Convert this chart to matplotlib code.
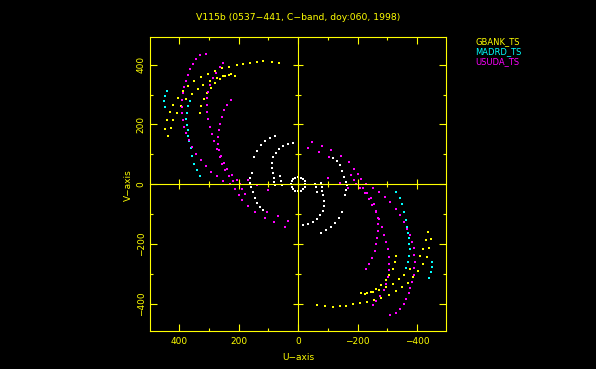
import matplotlib
matplotlib.use("Agg")
import matplotlib.pyplot as plt
import numpy as np
from matplotlib.ticker import MultipleLocator

# uv tracks (kilo-lambda), only one half is listed; the conjugate (-u, -v) is drawn too
GBANK_TRACK_1 = [(448, 185), (442, 215), (433, 243), (420, 266), (405, 290), (388, 312), (370, 330),
                 (350, 345), (328, 358), (305, 370), (280, 380), (255, 388), (232, 394), (207, 399),
                 (185, 403), (162, 407), (140, 409), (117, 411), (89, 409), (64, 405)]
GBANK_TRACK_2 = [(437, 160), (429, 188), (420, 216), (409, 240), (394, 262), (377, 285), (358, 303),
                 (339, 318), (319, 333), (297, 344), (274, 355), (252, 363), (232, 366), (213, 364)]
GBANK_TRACK_3 = [(330, 240), (326, 262), (318, 285), (307, 305), (295, 322), (280, 338), (262, 352),
                 (245, 362), (225, 368)]

MADRD_TRACK_1 = [(450, 260), (451, 277), (448, 296), (442, 313)]
MADRD_TRACK_2 = [(330, 26), (342, 48), (350, 68), (358, 93), (362, 121), (366, 143), (370, 162),
                 (372, 182), (375, 199), (377, 218), (375, 240), (370, 262), (364, 280)]

USUDA_TRACK_1 = [(310, 437), (330, 433), (344, 419), (355, 402), (364, 385), (372, 366), (378, 347),
                 (384, 327), (389, 305), (391, 282), (392, 260), (391, 238), (389, 215), (384, 193),
                 (377, 171), (368, 149), (357, 126), (344, 102), (328, 82), (311, 61), (293, 42),
                 (274, 26), (252, 12), (229, 1), (213, -16), (200, -35), (189, -52), (170, -73),
                 (144, -94), (112, -114), (82, -128), (45, -142)]
USUDA_TRACK_2 = [(252, 405), (263, 392), (277, 374), (288, 355), (297, 333), (302, 310), (306, 288),
                 (307, 266), (306, 243), (302, 218), (297, 193), (290, 169), (282, 143), (272, 117),
                 (261, 93), (250, 70), (239, 50), (224, 31), (207, 14), (196, 1), (188, -15),
                 (179, -32), (104, -92), (69, -108), (33, -122)]
USUDA_TRACK_3 = [(227, 283), (238, 266), (250, 247), (258, 224), (263, 202), (266, 180), (269, 157),
                 (270, 135), (268, 113), (263, 90), (255, 68), (245, 48), (232, 28), (218, 12),
                 (168, 14), (140, -4), (101, -19)]

OTHER_TRACK_1 = [(78, 162), (95, 155), (112, 145), (125, 130), (138, 112), (148, 92), (157, 37),
                 (162, 20), (163, 3), (160, -8), (153, -25), (147, -45), (140, -64), (130, -78),
                 (118, -86)]
OTHER_TRACK_2 = [(17, 137), (33, 134), (50, 127), (64, 118), (75, 105), (84, 90), (87, 72), (87, 55),
                 (85, 38), (82, 22), (80, 8), (78, -4)]
OTHER_TRACK_3 = [(62, 26), (59, 9), (56, -2)]
OTHER_TRACK_4 = [(24, 0), (22, 9), (17, 17), (9, 22), (0, 23), (-9, 22), (-17, 17), (-22, 9)]

SERIES = [
    ("", "white", [OTHER_TRACK_1, OTHER_TRACK_2, OTHER_TRACK_3, OTHER_TRACK_4]),
    ("GBANK_TS", "#ffff00", [GBANK_TRACK_1, GBANK_TRACK_2, GBANK_TRACK_3]),
    ("MADRD_TS", "#00ffff", [MADRD_TRACK_1, MADRD_TRACK_2]),
    ("USUDA_TS", "#ff00ff", [USUDA_TRACK_1, USUDA_TRACK_2, USUDA_TRACK_3]),
]

TITLE = "V115b (0537\u2212441, C\u2212band, doy:060, 1998)"
FG = "#ffff00"

fig = plt.figure(figsize=(5.96, 3.69), dpi=100, facecolor="black")
pos = [150 / 596, 1 - 331 / 369, 295.7 / 596, 293.7 / 369]
ax = fig.add_axes(pos, facecolor="black")

for name, color, tracks in SERIES:
    for track in tracks:
        uv = np.array(track, dtype=float)
        ax.plot(uv[:, 0], uv[:, 1], ls="none", marker="s", ms=1.5, mew=0, color=color)
        ax.plot(-uv[:, 0], -uv[:, 1], ls="none", marker="s", ms=1.5, mew=0, color=color)

ax.set_xlim(499, -497)
ax.set_ylim(-492, 492)
for side in ax.spines.values():
    side.set_color(FG)
    side.set_linewidth(0.8)
ax.xaxis.set_major_locator(MultipleLocator(200))
ax.xaxis.set_minor_locator(MultipleLocator(100))
ax.yaxis.set_major_locator(MultipleLocator(200))
ax.yaxis.set_minor_locator(MultipleLocator(100))
ax.tick_params(which="both", direction="in", colors=FG, top=True, right=True, width=0.8)
ax.tick_params(which="major", length=5)
ax.tick_params(which="minor", length=2.5)
ax.tick_params(axis="x", labelsize=6.5, pad=4)
ax.tick_params(axis="y", labelsize=6.5, pad=3, labelrotation=90)
for lab in ax.get_yticklabels():
    lab.set_va("center")
ax.xaxis.set_major_formatter(lambda x, p: f"{x:.0f}".replace("-", "\u2212"))
ax.yaxis.set_major_formatter(lambda x, p: f"{x:.0f}".replace("-", "\u2212"))

# axis lines through the origin with crossing ticks
zax = fig.add_axes(pos, sharex=ax, sharey=ax)
zax.patch.set_visible(False)
zax.spines["top"].set_visible(False)
zax.spines["right"].set_visible(False)
zax.spines["left"].set_position(("data", 0))
zax.spines["bottom"].set_position(("data", 0))
for k in ("left", "bottom"):
    zax.spines[k].set_color(FG)
    zax.spines[k].set_linewidth(0.8)
zax.tick_params(which="both", direction="inout", colors=FG, width=0.8,
                labelbottom=False, labelleft=False)
zax.tick_params(which="major", length=7)
zax.tick_params(which="minor", length=4)

fig.text(298 / 596, 1 - 17 / 369, TITLE, color=FG, fontsize=6.7, ha="center", va="center")
fig.text(298 / 596, 1 - 358 / 369, "U\u2212axis", color=FG, fontsize=6.5, ha="center", va="center")
fig.text(128 / 596, 1 - 185 / 369, "V\u2212axis", color=FG, fontsize=6.5, ha="center", va="center",
         rotation=90)

legend_y = [42, 52, 62]
for (name, color, _), y in zip(SERIES[1:], legend_y):
    fig.text(475 / 596, 1 - y / 369, name, color=color, fontsize=6, ha="left", va="center")

fig.savefig("out.png", dpi=100, facecolor="black")
